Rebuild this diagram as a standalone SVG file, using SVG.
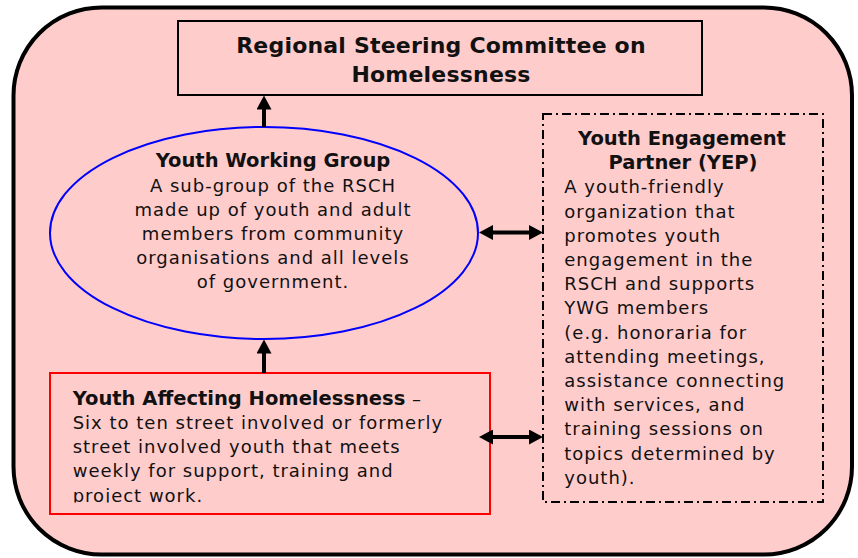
<svg xmlns="http://www.w3.org/2000/svg" width="858" height="558" viewBox="0 0 858 558">
  <style>
    .frame { fill: #FFCCCC; stroke: #000; stroke-width: 4; }
    .box { fill: none; stroke: #000; stroke-width: 2; }
    .t { font-family: "DejaVu Sans", Verdana, sans-serif; fill: #111; }
    .title { font-size: 22px; font-weight: bold; letter-spacing: 0.2px; text-anchor: middle; }
    .head { font-size: 19.5px; font-weight: bold; }
    .body { font-size: 18px; letter-spacing: 1px; }
    .mid { text-anchor: middle; }
    .conn { stroke: #000; stroke-width: 4; fill: none; }
  </style>
  <defs>
    <marker id="arrow" viewBox="0 0 14 15" refX="6" refY="7.5" markerWidth="14" markerHeight="15" markerUnits="userSpaceOnUse" orient="auto-start-reverse">
      <path d="M0,0 L14,7.5 L0,15 Z" fill="#000"/>
    </marker>
    <clipPath id="yahClip">
      <rect x="50" y="373" width="440" height="129.5"/>
    </clipPath>
  </defs>

  <!-- outer rounded frame -->
  <rect class="frame" x="13.5" y="7.5" width="838.5" height="547" rx="88" ry="88"/>

  <!-- Regional Steering Committee -->
  <g id="rsch">
    <rect class="box" x="178" y="21" width="524" height="74"/>
    <text class="t title" x="441" y="53.3">Regional Steering Committee on</text>
    <text class="t title" x="441" y="81.5">Homelessness</text>
  </g>

  <!-- Youth Working Group -->
  <g id="ywg">
    <ellipse cx="264" cy="233" rx="214" ry="106" fill="none" stroke="#0000FF" stroke-width="2"/>
    <text class="t head mid" x="273" y="166.7">Youth Working Group</text>
    <text class="t body mid" x="273" y="191.7">A sub-group of the RSCH</text>
    <text class="t body mid" x="273" y="215.5">made up of youth and adult</text>
    <text class="t body mid" x="273" y="239.5">members from community</text>
    <text class="t body mid" x="273" y="263.5">organisations and all levels</text>
    <text class="t body mid" x="273" y="287.5">of government.</text>
  </g>

  <!-- Youth Engagement Partner -->
  <g id="yep">
    <rect x="543" y="114" width="280" height="388" fill="none" stroke="#000" stroke-width="2" stroke-dasharray="9 4 2 4"/>
    <text class="t head mid" x="682" y="145">Youth Engagement</text>
    <text class="t head mid" x="683" y="169">Partner (YEP)</text>
    <text class="t body" x="564.3" y="193.3">A youth-friendly</text>
    <text class="t body" x="564.3" y="217.5">organization that</text>
    <text class="t body" x="564.3" y="241.7">promotes youth</text>
    <text class="t body" x="564.3" y="265.9">engagement in the</text>
    <text class="t body" x="564.3" y="290.1">RSCH and supports</text>
    <text class="t body" x="564.3" y="314.3">YWG members</text>
    <text class="t body" x="564.3" y="338.5">(e.g. honoraria for</text>
    <text class="t body" x="564.3" y="362.7">attending meetings,</text>
    <text class="t body" x="564.3" y="386.9">assistance connecting</text>
    <text class="t body" x="564.3" y="411.1">with services, and</text>
    <text class="t body" x="564.3" y="435.3">training sessions on</text>
    <text class="t body" x="564.3" y="459.5">topics determined by</text>
    <text class="t body" x="564.3" y="483.7">youth).</text>
  </g>

  <!-- Youth Affecting Homelessness -->
  <g id="yah">
    <rect x="50" y="373" width="440" height="141" fill="none" stroke="#FF0000" stroke-width="2"/>
    <g clip-path="url(#yahClip)">
      <text class="t" x="72.7" y="405"><tspan class="head">Youth Affecting Homelessness</tspan><tspan class="body"> –</tspan></text>
      <text class="t body" x="72.7" y="429.3">Six to ten street involved or formerly</text>
      <text class="t body" x="72.7" y="453.3">street involved youth that meets</text>
      <text class="t body" x="72.7" y="477.3">weekly for support, training and</text>
      <text class="t body" x="72.7" y="501.5">project work.</text>
    </g>
  </g>

  <!-- connectors -->
  <g id="connectors">
    <line class="conn" x1="264" y1="127" x2="264" y2="103.5" marker-end="url(#arrow)"/>
    <line class="conn" x1="264" y1="373" x2="264" y2="347.5" marker-end="url(#arrow)"/>
    <line class="conn" x1="487" y1="232.5" x2="535" y2="232.5" marker-start="url(#arrow)" marker-end="url(#arrow)"/>
    <line class="conn" x1="487" y1="437" x2="535" y2="437" marker-start="url(#arrow)" marker-end="url(#arrow)"/>
  </g>
</svg>
